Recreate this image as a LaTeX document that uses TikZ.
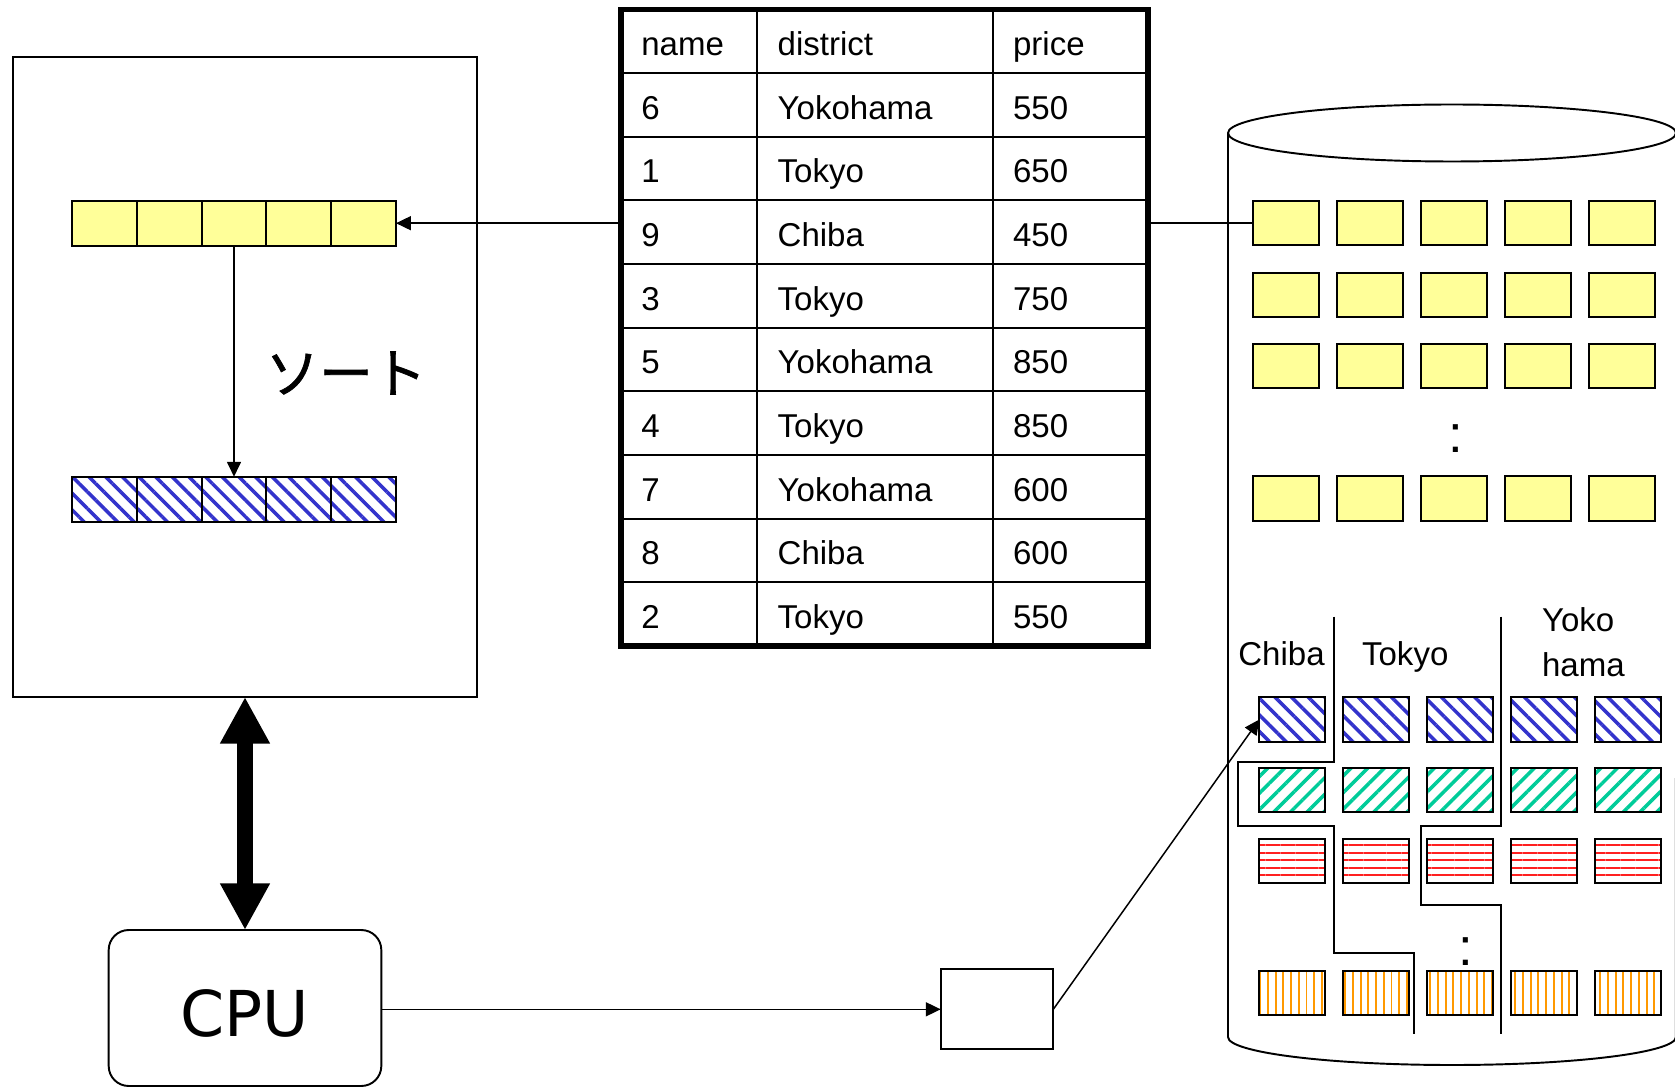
\documentclass[tikz,border=0pt]{standalone}
\usepackage{fontspec}
\setmainfont{Liberation Sans}
\newfontfamily\cjkfont[FakeBold=1.2]{Noto Sans CJK JP}
\newfontfamily\cpufont{DejaVu Sans}
\usetikzlibrary{arrows.meta,patterns.meta}

\definecolor{cellyellow}{HTML}{FFFF99}
\definecolor{hatchblue}{HTML}{3333CC}
\definecolor{hatchgreen}{HTML}{00CC99}
\definecolor{hatchred}{HTML}{FF2020}
\definecolor{hatchorange}{HTML}{FF9900}

\tikzset{
  x=0.02cm, y=-0.02cm,
  thinline/.style={line width=1.1pt},
  cell/.style={draw, thinline, inner sep=0pt, outer sep=0pt,
    minimum width=1.296cm, minimum height=0.9cm},
  block/.style={draw, thinline, inner sep=0pt, outer sep=0pt,
    minimum width=1.32cm, minimum height=0.886cm},
  plain/.style={fill=cellyellow},
  bluehatch/.style={pattern={Lines[angle=-45,distance=6.7pt,line width=2pt]}, pattern color=hatchblue},
  greenhatch/.style={pattern={Lines[angle=45,distance=6.7pt,line width=2pt]}, pattern color=hatchgreen},
  redhatch/.style={pattern={Lines[angle=0,distance=4.3pt,line width=1.1pt]}, pattern color=hatchred},
  orangehatch/.style={pattern={Lines[angle=90,distance=4.4pt,line width=1.1pt]}, pattern color=hatchorange},
  conn/.style={line width=0.85pt, -{Triangle[length=8.5pt,width=8pt]}},
  tabtext/.style={anchor=base west, inner sep=0pt, font=\fontsize{18.8pt}{22pt}\selectfont},
  disklabel/.style={anchor=base west, inner sep=0pt, font=\fontsize{18.8pt}{25.4pt}\selectfont},
  ellipsis/.style={anchor=base, inner sep=0pt, font=\fontsize{30pt}{32pt}\selectfont},
}

\begin{document}
\begin{tikzpicture}
\path[fill=white, use as bounding box] (0,0) rectangle (1675,1087);

% ---------- main memory ----------
\node[draw, thinline, inner sep=0pt, outer sep=0pt,
      minimum width=9.28cm, minimum height=12.8cm] (mem) at (245,377) {};
\foreach \i in {1,...,5} {
  \node[cell, plain]     (m1-\i) at ({39.6+64.8*\i}, 223.2) {};
  \node[cell, bluehatch] (m2-\i) at ({39.6+64.8*\i}, 499.2) {};
}
\draw[conn] (m1-3.south) -- (m2-3.north);
\node[font=\cjkfont\fontsize{30.5pt}{34pt}\selectfont, inner sep=0pt] (sortlabel) at (346,373) {ソート};

% ---------- table ----------
\node[draw, line width=3pt, inner sep=0pt, outer sep=0pt,
      minimum width=10.54cm, minimum height=12.73cm] (tbl) at (884.5,327.75) {};
\foreach \i in {1,...,9}
  \draw[thinline] (621,{9.5+63.65*\i}) -- (1148,{9.5+63.65*\i});
\draw[thinline] (757.3,9.5) -- (757.3,646);
\draw[thinline] (992.7,9.5) -- (992.7,646);
\foreach \a/\b/\c [count=\r from 0] in {name/district/price, 6/Yokohama/550,
    1/Tokyo/650, 9/Chiba/450, 3/Tokyo/750, 5/Yokohama/850, 4/Tokyo/850,
    7/Yokohama/600, 8/Chiba/600, 2/Tokyo/550} {
  \node[tabtext] (t-\r-1) at (641,{55.5+63.65*\r}) {\a};
  \node[tabtext] (t-\r-2) at (777.3,{55.5+63.65*\r}) {\b};
  \node[tabtext] (t-\r-3) at (1012.7,{55.5+63.65*\r}) {\c};
}
\draw[conn] (m1-5.east -| tbl.west) -- (m1-5.east);

% ---------- disk ----------
\draw[thinline] (1452,133) ellipse [x radius=4.48cm, y radius=0.57cm];
\draw[thinline] (1228,133) -- (1228,1037)
  arc [start angle=180, end angle=360, x radius=4.48cm, y radius=0.56cm] -- (1676,133);

\foreach \y [count=\r] in {223.2, 295.3, 366, 498.5}
  \foreach \c in {1,...,5}
    \node[block, plain] (d-\r-\c) at ({1201.7+84*\c}, \y) {};
\node[ellipsis] (dots1) at (1456,452.5) {:};

\draw[line width=0.85pt] (d-1-1.west -| tbl.east) -- (d-1-1.west);

\foreach \y/\st [count=\r] in {719.5/bluehatch, 790/greenhatch, 860.7/redhatch, 993/orangehatch}
  \foreach \c in {1,...,5}
    \node[block, \st] (h-\r-\c) at ({1208.3+84*\c}, \y) {};
\node[ellipsis] (dots2) at (1465.7,965) {:};

\node[disklabel] (lchiba) at (1238,665) {Chiba};
\node[disklabel] (ltokyo) at (1361.7,665) {Tokyo};
\node[disklabel, align=left, anchor=west] (lyoko) at (1541.7,642.3) {Yoko\\hama};

% district boundaries
\draw[thinline] (1334,616.7) -- (1334,761.7) -- (1237.7,761.7) -- (1237.7,825.7)
  -- (1334,825.7) -- (1334,953.3) -- (1414,953.3) -- (1414,1034);
\draw[thinline] (1501,616.7) -- (1501,825.7) -- (1421,825.7) -- (1421,905)
  -- (1501,905) -- (1501,1034);

% ---------- CPU and buffer ----------
\node[draw, thinline, rounded corners=0.4cm, inner sep=0pt, outer sep=0pt,
      minimum width=5.454cm, minimum height=3.12cm,
      text height=32pt, text depth=0pt,
      font=\cpufont\fontsize{36pt}{40pt}\selectfont] (cpu) at (245,1008) {CPU};
\draw[line width=9.5pt,
  {Triangle[length=26.6pt,width=26.6pt]}-{Triangle[length=26.6pt,width=26.6pt]}]
  (mem.south) -- (cpu.north);

\node[draw, thinline, inner sep=0pt, outer sep=0pt,
      minimum width=2.252cm, minimum height=1.6cm] (sbox) at (997,1009.3) {};
\draw[conn] (cpu.east |- sbox.west) -- (sbox.west);
\draw[conn] (sbox.east) -- (h-1-1.west);
\end{tikzpicture}
\end{document}
